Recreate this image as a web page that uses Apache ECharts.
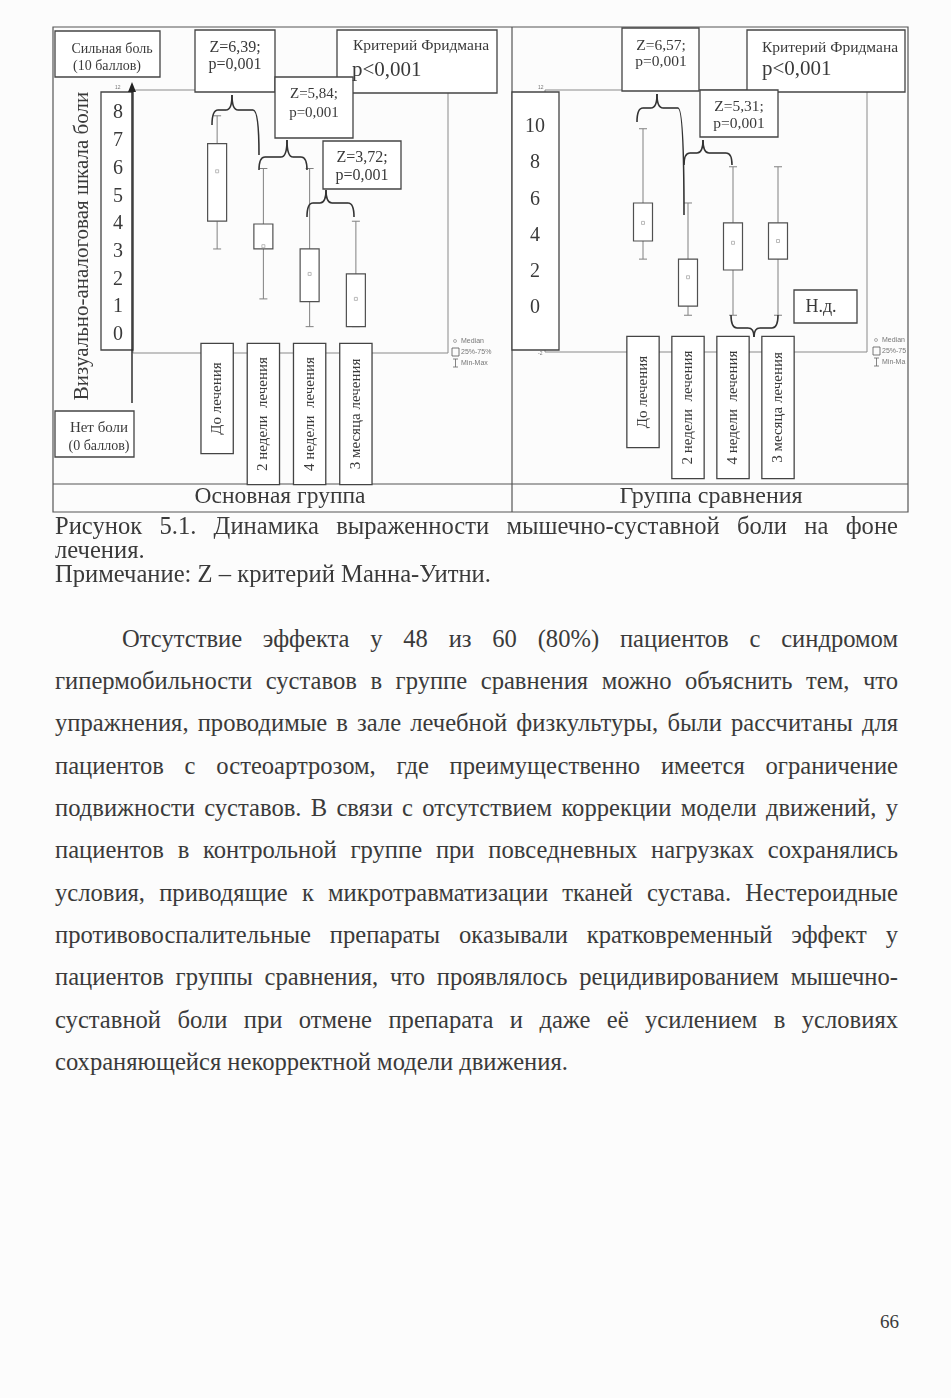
<!DOCTYPE html>
<html>
<head>
<meta charset="utf-8">
<script src="https://cdn.jsdelivr.net/npm/echarts@6/dist/echarts.min.js"></script>
<style>
  body { margin: 0; background: #fcfcfc; }
  #page { position: relative; width: 951px; height: 1398px; overflow: hidden;
          font-family: "Liberation Serif", "DejaVu Serif", serif; color: #3a3a3a; }
  #chart { position: absolute; left: 0; top: 0; width: 951px; height: 520px; }
  .ln { position: absolute; left: 55px; width: 843px; font-size: 24.6px; line-height: 28px; white-space: normal; }
  .j { text-align: justify; text-align-last: justify; }
</style>
</head>
<body>
<div id="page">
  <div id="chart"></div>

  <div class="ln j" style="top:512px">Рисунок 5.1. Динамика выраженности мышечно-суставной боли на фоне</div>
  <div class="ln" style="top:536px">лечения.</div>
  <div class="ln" style="top:560px">Примечание: Z – критерий Манна-Уитни.</div>

  <div class="ln j" style="top:625px;left:122px;width:776px">Отсутствие эффекта у 48 из 60 (80%) пациентов с синдромом</div>
  <div class="ln j" style="top:667px">гипермобильности суставов в группе сравнения можно объяснить тем, что</div>
  <div class="ln j" style="top:709px">упражнения, проводимые в зале лечебной физкультуры, были рассчитаны для</div>
  <div class="ln j" style="top:752px">пациентов с остеоартрозом, где преимущественно имеется ограничение</div>
  <div class="ln j" style="top:794px">подвижности суставов. В связи с отсутствием коррекции модели движений, у</div>
  <div class="ln j" style="top:836px">пациентов в контрольной группе при повседневных нагрузках сохранялись</div>
  <div class="ln j" style="top:879px">условия, приводящие к микротравматизации тканей сустава. Нестероидные</div>
  <div class="ln j" style="top:921px">противовоспалительные препараты оказывали кратковременный эффект у</div>
  <div class="ln j" style="top:963px">пациентов группы сравнения, что проявлялось рецидивированием мышечно-</div>
  <div class="ln j" style="top:1006px">суставной боли при отмене препарата и даже её усилением в условиях</div>
  <div class="ln" style="top:1048px">сохраняющейся некорректной модели движения.</div>

  <div class="ln" style="top:1308px;left:880px;width:30px;font-size:19px">66</div>
</div>

<script>
// категории (подписи по оси X)
const categories = ['До лечения', '2 недели  лечения', '4 недели  лечения', '3 месяца лечения'];

// Основная группа: min, 25%, медиана, 75%, max
const mainMin = [3.1, 1.3, 0.3, 0.3];
const mainQ1  = [4.1, 3.1, 1.2, 0.3];
const mainMed = [5.9, 3.2, 2.2, 1.3];
const mainQ3  = [6.9, 4.0, 3.1, 2.2];
const mainMax = [7.9, 6.0, 6.0, 4.1];

// Группа сравнения
const compMin = [2.7, -0.4, -0.4, -0.4];
const compQ1  = [3.7, 0.1, 2.1, 2.7];
const compMed = [4.7, 1.7, 3.6, 3.7];
const compQ3  = [5.8, 2.7, 4.7, 4.7];
const compMax = [9.9, 5.8, 7.8, 7.8];

// подписи шкалы
const mainTicks = [0, 1, 2, 3, 4, 5, 6, 7, 8];
const compTicks = [0, 2, 4, 6, 8, 10];

const SERIF = '"Liberation Serif", "DejaVu Serif", serif';
const INK = '#3a3a3a';
const LINE = '#444';
const CAT_SIZE = 15;

// ширина текста подписи, чтобы рамки были одной длины
const measureCtx = document.createElement('canvas').getContext('2d');
measureCtx.font = CAT_SIZE + 'px ' + SERIF;
function catItems(lengths) {
  return categories.map(function (c, i) {
    const pad = Math.max(4, (lengths[i] - measureCtx.measureText(c).width) / 2);
    return { value: c, textStyle: { padding: [8, pad, 8, pad] } };
  });
}

function boxItem(params, api) {
  const i = api.value(0);
  const pMax = api.coord([i, api.value(5)]);
  const pQ3 = api.coord([i, api.value(4)]);
  const pMed = api.coord([i, api.value(3)]);
  const pQ1 = api.coord([i, api.value(2)]);
  const pMin = api.coord([i, api.value(1)]);
  const x = pMax[0], hw = 9.5, cw = 4;
  const w = { stroke: '#808080', lineWidth: 1 };
  return {
    type: 'group',
    children: [
      { type: 'line', shape: { x1: x, y1: pMax[1], x2: x, y2: pQ3[1] }, style: w },
      { type: 'line', shape: { x1: x, y1: pQ1[1], x2: x, y2: pMin[1] }, style: w },
      { type: 'line', shape: { x1: x - cw, y1: pMax[1], x2: x + cw, y2: pMax[1] }, style: w },
      { type: 'line', shape: { x1: x - cw, y1: pMin[1], x2: x + cw, y2: pMin[1] }, style: w },
      { type: 'rect', shape: { x: x - hw, y: pQ3[1], width: hw * 2, height: Math.max(pQ1[1] - pQ3[1], 1) },
        style: { fill: '#fff', stroke: '#505050', lineWidth: 1.2 } },
      { type: 'rect', shape: { x: x - 1.5, y: pMed[1] - 1.5, width: 3, height: 3 },
        style: { fill: 'none', stroke: '#aaa', lineWidth: 0.8 } }
    ]
  };
}

function rows(mn, q1, md, q3, mx) {
  return categories.map(function (c, i) { return [i, mn[i], q1[i], md[i], q3[i], mx[i]]; });
}

// графика: рамки, подписи, скобки
function box(x, y, w, h, z) {
  return { type: 'rect', z: z || 10, shape: { x: x, y: y, width: w, height: h },
    style: { fill: '#fff', stroke: LINE, lineWidth: 1.3 } };
}
function txt(x, y, text, size, align, extra) {
  const el = { type: 'text', z: 12, x: x, y: y,
    style: { text: text, fontSize: size, fontFamily: SERIF, fill: INK, align: align || 'center', verticalAlign: 'middle' } };
  return Object.assign(el, extra || {});
}
function small(x, y, text, size) {
  return { type: 'text', z: 12, x: x, y: y,
    style: { text: text, fontSize: size || 7, fontFamily: 'Liberation Sans, sans-serif', fill: '#777', align: 'left', verticalAlign: 'middle' } };
}
function line(x1, y1, x2, y2, color, width, z) {
  return { type: 'line', z: z || 1, shape: { x1: x1, y1: y1, x2: x2, y2: y2 },
    style: { stroke: color || LINE, lineWidth: width || 1 } };
}
function curve(x1, y1, cx, cy, x2, y2) {
  return { type: 'bezierCurve', z: 8, shape: { x1: x1, y1: y1, cpx1: cx, cpy1: cy, x2: x2, y2: y2 },
    style: { fill: 'none', stroke: '#333', lineWidth: 1.6 } };
}
// фигурная скобка: концы x1/x2, острие xc/yTip, горизонталь yH
function brace(x1, x2, xc, yTip, yH, yL, yR) {
  const r = 6;
  return [
    curve(x1, yL, x1, yH, x1 + r, yH),
    line(x1 + r, yH, xc - r, yH, '#333', 1.6, 8),
    curve(xc - r, yH, xc, yH, xc, yTip),
    curve(xc, yTip, xc, yH, xc + r, yH),
    line(xc + r, yH, x2 - r, yH, '#333', 1.6, 8),
    curve(x2 - r, yH, x2, yH, x2, yR)
  ];
}
function legend(x, y, last) {
  return [
    { type: 'circle', z: 12, shape: { cx: x + 3, cy: y, r: 1.5 }, style: { fill: 'none', stroke: '#999', lineWidth: 0.8 } },
    small(x + 9, y, 'Median'),
    { type: 'rect', z: 12, shape: { x: x, y: y + 7, width: 7, height: 8 }, style: { fill: 'none', stroke: '#555', lineWidth: 0.8 } },
    small(x + 9, y + 11, last ? '25%-75' : '25%-75%'),
    line(x + 3.5, y + 18, x + 3.5, y + 26, '#666', 0.8, 12),
    line(x + 1, y + 18, x + 6, y + 18, '#666', 0.8, 12),
    line(x + 1, y + 26, x + 6, y + 26, '#666', 0.8, 12),
    small(x + 9, y + 22, last ? 'Min-Ma' : 'Min-Max')
  ];
}

const graphics = [
  // общая рамка
  { type: 'rect', z: 0, shape: { x: 53, y: 27, width: 855, height: 485 }, style: { fill: 'none', stroke: '#555', lineWidth: 1.2 } },
  line(53, 484, 908, 484, '#555', 1.2, 0),
  line(512, 27, 512, 512, '#555', 1.2, 0),
  txt(280, 497, 'Основная группа', 23.5),
  txt(711, 497, 'Группа сравнения', 24),

  // поле графика, основная группа
  { type: 'rect', z: 1, shape: { x: 133, y: 90, width: 315, height: 263 }, style: { fill: 'none', stroke: '#8a8a8a', lineWidth: 1 } },
  box(101, 92, 32, 258, 3),
  line(132, 88, 132, 403, '#222', 1.4, 4),
  { type: 'polygon', z: 4, shape: { points: [[128, 92], [136, 92], [132, 82]] }, style: { fill: '#222' } },
  small(115, 88, '12', 5),
  txt(82, 246, 'Визуально-аналоговая шкала боли', 21, 'center', { rotation: Math.PI / 2 }),
  box(55, 31, 105, 46), txt(112, 49, 'Сильная боль', 14), txt(107, 66, '(10 баллов)', 14),
  box(55, 411, 79, 46), txt(99, 428, 'Нет боли', 15), txt(99, 446, '(0 баллов)', 14),
  box(195, 30, 80, 62), txt(235, 48, 'Z=6,39;', 16), txt(235, 65, 'p=0,001', 16),
  box(337, 30, 160, 63), txt(421, 46, 'Критерий Фридмана', 15.5), txt(352, 70, 'p<0,001', 21, 'left'),
  box(275, 77, 78, 61), txt(314, 94, 'Z=5,84;', 15), txt(314, 113, 'p=0,001', 15),
  box(323, 141, 78, 48), txt(362, 158, 'Z=3,72;', 16), txt(362, 176, 'p=0,001', 16),

  // поле графика, группа сравнения
  { type: 'rect', z: 1, shape: { x: 545, y: 90, width: 322, height: 262 }, style: { fill: 'none', stroke: '#8a8a8a', lineWidth: 1 } },
  box(512, 92, 47, 258, 3),
  small(538, 88, '12', 5),
  small(538, 354, '-2', 5),
  box(622, 28, 77, 63), txt(661, 46, 'Z=6,57;', 15.5), txt(661, 62, 'p=0,001', 15.5),
  box(747, 30, 158, 62), txt(830, 48, 'Критерий Фридмана', 15.5), txt(762, 69, 'p<0,001', 21, 'left'),
  box(700, 90, 78, 47), txt(739, 107, 'Z=5,31;', 15.5), txt(739, 124, 'p=0,001', 15.5),
  box(794, 290, 63, 33), txt(821, 307, 'Н.д.', 18)
].concat(
  brace(212, 259, 232, 95, 110, 125, 155),
  brace(259, 307, 287, 140, 157, 170, 170),
  brace(307, 354, 326, 190, 203, 217, 217),
  brace(637, 684, 657, 94, 108, 122, 215),
  brace(684, 732, 703, 140, 153, 165, 165),
  brace(731, 778, 754, 337, 328, 315, 315),
  legend(452, 341, false),
  legend(873, 340, true)
);

function catAxis(gridIndex, margin, lengths) {
  return {
    gridIndex: gridIndex, type: 'category', data: catItems(lengths), z: 6,
    axisLine: { show: false }, axisTick: { show: false }, splitLine: { show: false },
    axisLabel: {
      interval: 0, rotate: 90, margin: margin, fontSize: CAT_SIZE, fontFamily: SERIF, color: INK,
      lineHeight: 15, backgroundColor: '#fff', borderColor: LINE, borderWidth: 1.3
    }
  };
}
function valAxis(gridIndex, min, max, split, offset, margin, ticks) {
  return {
    gridIndex: gridIndex, type: 'value', min: min, max: max, splitNumber: split, offset: offset, z: 6,
    axisLine: { show: false }, axisTick: { show: false }, splitLine: { show: false },
    axisLabel: {
      align: 'center', margin: margin, fontSize: 20, fontFamily: SERIF, color: INK,
      showMinLabel: true, showMaxLabel: true,
      formatter: function (v) { return ticks.indexOf(Math.round(v * 100) / 100) >= 0 ? String(v) : ''; }
    }
  };
}

const chart = echarts.init(document.getElementById('chart'), null, { renderer: 'canvas' });
chart.setOption({
  animation: false,
  grid: [
    { left: 194, top: 90, width: 185, height: 263 },
    { left: 620.5, top: 90, width: 180, height: 262 }
  ],
  xAxis: [catAxis(0, -9, [109, 140, 140, 140]), catAxis(1, -15, [110, 141, 141, 141])],
  yAxis: [valAxis(0, -0.65, 8.83, 10, 62, 14, mainTicks), valAxis(1, -2.43, 12.04, 7, 61.5, 24, compTicks)],
  series: [
    { name: 'Основная группа', type: 'custom', xAxisIndex: 0, yAxisIndex: 0, z: 5,
      renderItem: boxItem, encode: { x: 0, y: [1, 2, 3, 4, 5] },
      data: rows(mainMin, mainQ1, mainMed, mainQ3, mainMax) },
    { name: 'Группа сравнения', type: 'custom', xAxisIndex: 1, yAxisIndex: 1, z: 5,
      renderItem: boxItem, encode: { x: 0, y: [1, 2, 3, 4, 5] },
      data: rows(compMin, compQ1, compMed, compQ3, compMax) }
  ],
  graphic: { elements: graphics }
});
</script>
</body>
</html>
